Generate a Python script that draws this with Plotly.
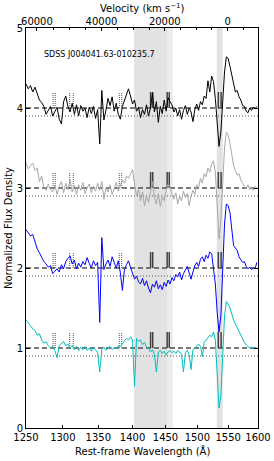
import math
import plotly.graph_objects as go

# ---------------- data ----------------
wave = list(range(1250, 1601, 3))  # rest-frame wavelength grid (A)

flux_black = [
    4.30, 4.24, 4.28, 4.20, 4.26, 4.18, 4.10, 4.07, 4.02, 3.92,
    3.98, 4.02, 3.90, 3.96, 4.01, 3.86, 3.80, 4.08, 4.15, 4.02,
    3.95, 4.06, 3.92, 4.04, 3.90, 4.03, 3.96, 4.00, 3.88, 4.01,
    3.93, 4.02, 3.87, 3.98, 3.55, 4.22, 3.85, 3.97, 4.12, 4.03,
    4.14, 3.96, 4.06, 3.92, 3.86, 4.02, 4.10, 4.18, 4.24, 4.15,
    4.05, 4.10, 3.96, 4.01, 3.88, 3.98, 3.92, 4.04, 3.90, 4.00,
    4.19, 3.95, 4.08, 3.82, 4.02, 3.93, 4.10, 3.96, 4.13, 4.08,
    4.04, 3.95, 4.00, 3.90, 3.98, 3.86, 3.97, 4.03, 3.92, 4.00,
    3.95, 3.83, 3.98, 4.05, 3.97, 4.08, 4.04, 4.15, 4.12, 4.34,
    4.20, 4.40, 4.33, 4.12, 3.80, 3.52, 3.70, 4.10, 4.45, 4.64,
    4.62, 4.52, 4.40, 4.28, 4.20, 4.22, 4.14, 4.10, 4.03, 4.02,
    3.96, 3.94, 4.00, 3.97, 4.01, 3.99, 4.02,
]
flux_gray = [
    3.31, 3.24, 3.28, 3.31, 3.22, 3.25, 3.08, 3.15, 3.00, 2.97,
    3.05, 2.98, 2.95, 3.04, 2.92, 3.02, 3.08, 2.94, 3.06, 2.98,
    3.10, 2.95, 3.03, 2.92, 3.04, 2.97, 3.07, 2.93, 3.00, 3.05,
    2.94, 3.02, 2.96, 3.06, 2.97, 3.08, 2.86, 3.00, 2.95, 3.04,
    2.92, 3.01, 3.07, 2.96, 3.03, 3.10, 3.06, 3.15, 3.12, 3.18,
    3.23, 3.05, 2.90, 2.98, 2.84, 2.95, 2.78, 2.90, 2.82, 2.95,
    3.08, 2.88, 2.80, 2.93, 2.77, 2.89, 2.84, 2.97, 3.05, 3.02,
    2.92, 2.86, 2.94, 2.80, 2.90, 2.84, 2.96, 2.88, 2.93, 2.78,
    2.90, 2.97, 2.92, 3.04, 3.00, 3.12, 3.06, 3.18, 3.14, 3.25,
    3.20, 3.30, 3.34, 3.20, 2.70, 2.36, 2.60, 3.05, 3.50, 3.70,
    3.66, 3.56, 3.42, 3.28, 3.22, 3.16, 3.18, 3.10, 3.06, 3.02,
    2.99, 3.04, 2.98, 3.01, 2.97, 3.02, 3.00,
]
flux_blue = [
    2.48, 2.44, 2.40, 2.42, 2.33, 2.24, 2.19, 2.14, 2.08, 2.05,
    2.01, 2.03, 1.93, 1.96, 1.99, 1.95, 2.04, 1.99, 2.08, 2.12,
    2.15, 2.05, 2.10, 1.99, 2.06, 2.01, 2.08, 2.04, 2.13, 2.06,
    2.00, 2.09, 2.03, 2.07, 1.32, 2.38, 1.98, 2.05, 2.10, 2.02,
    2.14, 2.07, 2.00, 2.09, 1.94, 1.72, 1.98, 2.04, 2.09, 2.01,
    1.92, 1.86, 1.90, 1.83, 1.80, 1.87, 1.78, 1.84, 1.75, 1.69,
    1.80, 1.76, 1.84, 1.74, 1.79, 1.73, 1.82, 1.77, 1.85, 1.80,
    1.88, 1.84, 1.92, 1.89, 1.95, 1.85, 1.93, 1.98, 2.02, 1.94,
    1.86, 1.95, 2.03, 2.07, 2.02, 2.11, 2.14, 2.08, 2.16, 2.12,
    2.20, 2.18, 2.00, 1.80, 1.45, 1.20, 1.40, 2.00, 2.55, 2.80,
    2.78, 2.69, 2.45, 2.28, 2.25, 2.22, 2.14, 2.10, 2.07, 2.08,
    2.02, 1.99, 2.01, 1.98, 2.00, 1.99, 2.07,
]
flux_cyan = [
    1.35, 1.32, 1.28, 1.24, 1.22, 1.16, 1.18, 1.10, 1.06, 1.08,
    1.03, 1.00, 1.02, 0.97, 0.88, 1.03, 1.05, 1.08, 1.03, 1.05,
    1.00, 1.03, 0.98, 1.02, 0.97, 1.01, 0.98, 1.02, 0.97, 1.00,
    0.96, 1.01, 0.98, 0.94, 0.70, 0.98, 1.01, 0.97, 1.00, 1.02,
    0.98, 1.01, 0.99, 1.03, 1.02, 1.05, 1.08, 1.12, 1.10, 1.14,
    1.10, 0.52, 1.12, 1.08, 1.10, 1.04, 1.07, 1.01, 1.00, 0.95,
    0.98, 0.92, 0.70, 0.95, 0.97, 0.93, 0.96, 0.91, 0.95, 0.97,
    0.94, 0.96, 0.93, 0.97, 0.95, 0.92, 0.70, 0.94, 0.97, 0.92,
    0.73, 0.98, 1.00, 1.03, 1.05, 1.02, 0.89, 1.07, 1.10, 1.13,
    1.16, 1.14, 1.20, 1.10, 0.60, 0.25, 0.40, 0.95, 1.40, 1.58,
    1.55, 1.50, 1.42, 1.35, 1.30, 1.25, 1.20, 1.17, 1.12, 1.07,
    1.04, 1.02, 1.00, 1.01, 0.99, 1.01, 1.00,
]

spectra = [flux_black, flux_gray, flux_blue, flux_cyan]
spec_colors = ["#000000", "#a8a8a8", "#0000ff", "#00bfbf"]
continuum = [4, 3, 2, 1]
dotted_offset = 0.1

dotted_marks = [1286.5, 1289.5, 1309.5, 1314.5, 1380.5, 1384.0]
solid_marks = [1427.2, 1430.4, 1452.6, 1455.8, 1533.8, 1538.4]
mark_height = 0.2

band_dark = [(1402.3, 1452.4), (1531.3, 1541.1)]
band_light = [(1452.4, 1461.7)]

x_ticks = [1250, 1300, 1350, 1400, 1450, 1500, 1550, 1600]
y_ticks = [0, 1, 2, 3, 4, 5]
vel_major = [60000, 40000, 20000, 0]
vel_minor = [55000, 50000, 45000, 35000, 30000, 25000, 15000, 10000, 5000, -5000]
lam0 = 1549.06
c_kms = 299792.458
label = "SDSS J004041.63-010235.7"

# --------------- helpers ---------------
def v2lam(v):
    b = v / c_kms
    return lam0 * math.sqrt((1 - b) / (1 + b))

FONT = "DejaVu Sans"
fig = go.Figure()

# shaded bands
for (a, b), col in [(bd, "#e2e2e2") for bd in band_dark] + [(bl, "#ececec") for bl in band_light]:
    fig.add_trace(go.Scatter(x=[a, b, b, a, a], y=[0, 0, 5, 5, 0], fill="toself",
                             fillcolor=col, line=dict(width=0), mode="lines",
                             hoverinfo="skip", showlegend=False))

# continuum lines
for c in continuum:
    fig.add_trace(go.Scatter(x=[1250, 1600], y=[c - dotted_offset] * 2, mode="lines",
                             line=dict(color="#555555", width=1, dash="1px,2px"),
                             showlegend=False, hoverinfo="skip"))
    fig.add_trace(go.Scatter(x=[1250, 1600], y=[c, c], mode="lines",
                             line=dict(color="#505050", width=1.4, dash="5px,3px"),
                             showlegend=False, hoverinfo="skip"))

# absorber marks
for c in continuum:
    xs, ys = [], []
    for m in dotted_marks:
        xs += [m, m, None]
        ys += [c, c + mark_height, None]
    fig.add_trace(go.Scatter(x=xs, y=ys, mode="lines",
                             line=dict(color="#555555", width=1, dash="1px,1px"),
                             showlegend=False, hoverinfo="skip"))
    xs, ys = [], []
    for m in solid_marks:
        xs += [m, m, None]
        ys += [c, c + mark_height, None]
    fig.add_trace(go.Scatter(x=xs, y=ys, mode="lines",
                             line=dict(color="#404040", width=1.5),
                             showlegend=False, hoverinfo="skip"))

# spectra
for f, col in zip(spectra, spec_colors):
    fig.add_trace(go.Scatter(x=wave, y=f, mode="lines", line=dict(color=col, width=1),
                             showlegend=False, hoverinfo="skip"))

# dummy trace for top axis
fig.add_trace(go.Scatter(x=[1400], y=[0], xaxis="x2", mode="markers",
                         marker=dict(opacity=0), showlegend=False, hoverinfo="skip"))

xr = [math.log10(1250), math.log10(1600)]
fig.update_layout(
    width=274, height=461,
    margin=dict(l=26, r=16, t=28, b=33, autoexpand=False),
    paper_bgcolor="white", plot_bgcolor="white",
    font=dict(family=FONT, size=10, color="black"),
    xaxis=dict(type="log", range=xr, tickvals=x_ticks, ticktext=[str(t) for t in x_ticks],
               ticks="inside", ticklen=3, tickcolor="black", showline=True,
               linecolor="black", linewidth=1, mirror=True, showgrid=False, zeroline=False,
               automargin=False, tickfont=dict(size=10, family=FONT)),
    xaxis2=dict(type="log", range=xr, overlaying="x", side="top", anchor="y",
                tickvals=[v2lam(v) for v in vel_major], ticktext=[str(v) for v in vel_major],
                ticks="inside", ticklen=3, tickcolor="black", showline=False,
                showgrid=False, zeroline=False, automargin=False,
                tickfont=dict(size=10, family=FONT),
                minor=dict(tickvals=[v2lam(v) for v in vel_minor], ticks="inside",
                           ticklen=2, tickcolor="black", showgrid=False)),
    yaxis=dict(range=[0, 5], tickvals=y_ticks, ticks="inside", ticklen=4, tickcolor="black",
               showline=True, linecolor="black", linewidth=1, mirror="ticks",
               showgrid=False, zeroline=False, automargin=False,
               tickfont=dict(size=10, family=FONT)),
    annotations=[
        dict(text=label, xref="paper", yref="y", x=16 / 232, y=4.67, xanchor="left",
             yanchor="middle", showarrow=False, font=dict(size=8, family=FONT)),
        dict(text="Normalized Flux Density", xref="paper", yref="paper", x=-18 / 232, y=0.5,
             textangle=-90, xanchor="center", yanchor="middle", showarrow=False,
             font=dict(size=10, family=FONT)),
        dict(text="Rest-frame Wavelength (Å)", xref="paper", yref="paper", x=0.5,
             y=-23 / 400, xanchor="center", yanchor="middle", showarrow=False,
             font=dict(size=10, family=FONT)),
        dict(text="Velocity (km s<sup>−1</sup>)", xref="paper", yref="paper", x=0.5,
             y=1 + 20 / 400, xanchor="center", yanchor="middle", showarrow=False,
             font=dict(size=10, family=FONT)),
    ],
)

assert all(len(f) == len(wave) for f in spectra)
fig.write_html("out.html", config={"displayModeBar": False},
               post_script="document.body.style.margin='0';document.body.style.padding='0';")
